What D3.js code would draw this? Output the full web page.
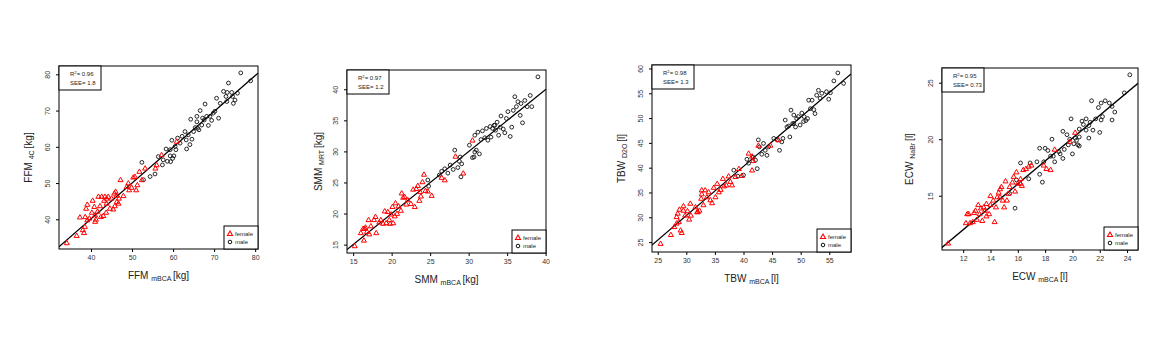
<!DOCTYPE html>
<html>
<head>
<meta charset="utf-8">
<script src="https://d3js.org/d3.v7.min.js"></script>
<style>
  body { margin: 0; background: #fff; }
  svg text { font-family: "Liberation Sans", Arial, sans-serif; fill: #222; }
  .tick text { font-size: 7px; fill: #333; }
</style>
</head>
<body>
<svg id="chart" width="1170" height="350"></svg>
<script>
// ---- data: [mBCA, reference] ----
const ffmFemale = [[34.1,33.5],[36.5,35.5],[37.3,40.6],[38.0,37.1],[38.3,36.3],[38.5,38.0],[38.8,43.0],[39.1,44.1],[38.6,40.7],[39.1,39.8],[39.6,40.3],[40.2,41.9],[40.4,45.2],[40.8,43.5],[41.0,41.2],[41.2,40.0],[41.6,42.2],[42.2,43.7],[42.6,46.3],[43.2,45.2],[43.4,46.3],[43.0,41.0],[43.7,41.9],[43.8,44.4],[44.2,46.3],[44.6,43.0],[45.0,45.8],[45.4,42.8],[45.7,47.2],[46.0,47.7],[46.2,46.6],[46.3,44.9],[46.7,44.4],[46.8,45.8],[47.2,50.9],[47.9,46.5],[48.7,49.0],[49.1,50.0],[49.3,48.1],[49.9,48.8],[50.3,51.6],[50.7,51.8],[51.0,48.1],[51.3,49.5],[51.8,53.2],[52.4,50.9],[53.2,54.1],[55.7,54.1],[56.0,55.0],[57.2,57.8],[60.9,61.5],[41.8,46.3],[43.8,45.8],[45.8,43.7],[41.0,39.4],[42.4,40.7]];
const ffmMale = [[52.4,55.7],[52.8,50.9],[54.4,51.8],[55.6,52.5],[56.4,57.3],[57.6,56.4],[58.3,59.4],[58.6,56.0],[59.3,59.2],[59.4,55.9],[59.7,61.8],[59.9,56.8],[60.2,57.5],[60.5,60.1],[60.7,59.2],[61.1,62.4],[61.7,61.0],[62.9,64.2],[63.2,61.9],[63.3,59.4],[63.7,63.3],[64.1,60.6],[64.3,67.6],[64.6,62.1],[65.0,64.2],[65.4,65.3],[65.8,66.9],[66.0,65.1],[66.3,64.7],[66.6,70.0],[67.0,66.0],[67.2,67.9],[67.6,67.4],[67.8,71.8],[68.2,68.4],[68.6,65.9],[69.0,68.4],[69.4,67.3],[69.8,69.3],[70.2,69.8],[70.6,73.4],[71.1,67.9],[71.5,72.0],[72.3,75.3],[72.9,73.9],[73.1,72.5],[73.5,77.6],[74.3,75.0],[74.7,72.0],[75.1,72.9],[75.7,74.8],[76.5,80.4],[78.9,78.2],[74.5,73.9],[65.8,68.4],[62.2,62.9],[59.3,57.5],[57.4,55.0],[73.2,75.0]];

const smmFemale = [[15.2,14.8],[16.0,16.9],[16.3,17.6],[16.4,15.7],[16.6,17.8],[16.8,17.1],[17.0,19.0],[17.1,16.7],[17.3,18.0],[17.7,19.0],[18.0,16.9],[18.4,18.6],[18.6,19.0],[18.9,18.4],[19.1,20.4],[19.3,18.5],[19.5,20.3],[19.7,19.0],[19.9,19.9],[20.1,21.1],[20.2,18.5],[20.4,19.6],[20.5,21.7],[20.7,20.0],[20.9,21.2],[21.2,20.5],[21.3,23.3],[21.5,22.6],[21.7,22.7],[22.1,22.2],[22.5,21.6],[22.8,23.9],[23.0,21.1],[23.2,24.0],[23.4,24.5],[23.6,22.1],[23.8,22.8],[24.0,25.1],[24.2,26.3],[24.4,23.7],[24.7,23.6],[25.2,22.9],[26.5,25.8],[26.9,25.4],[28.3,29.2],[29.3,26.5],[30.5,31.8],[17.9,19.5],[19.8,18.4],[21.9,21.5],[23.7,23.5],[16.5,17.6]];
const smmMale = [[24.7,25.4],[24.8,24.4],[26.2,26.2],[26.5,26.8],[26.9,27.2],[27.3,26.5],[27.6,27.8],[28.0,27.1],[28.2,30.2],[28.6,27.4],[28.8,28.4],[28.9,29.1],[29.0,25.9],[29.1,28.0],[30.1,31.0],[30.5,29.0],[30.7,29.1],[30.8,32.6],[31.0,30.2],[31.2,33.1],[31.4,29.6],[31.6,31.9],[31.8,33.3],[32.1,32.2],[32.3,33.7],[32.5,31.8],[32.8,34.0],[32.9,32.3],[33.1,33.7],[33.3,34.2],[33.5,33.4],[33.7,34.7],[33.9,32.6],[34.1,33.9],[34.2,35.7],[34.5,33.6],[34.7,33.0],[34.9,35.3],[35.1,36.4],[35.4,32.4],[35.6,33.9],[35.8,36.6],[36.0,38.8],[36.2,37.2],[36.4,38.0],[36.7,35.8],[37.0,34.6],[37.3,38.2],[37.6,37.2],[38.0,39.0],[38.2,37.2],[39.0,42.0],[36.8,37.7],[33.4,34.2],[30.8,29.9]];

const tbwFemale = [[25.5,24.7],[27.3,26.5],[27.9,28.1],[28.3,30.1],[28.5,30.8],[28.8,31.6],[28.7,29.1],[29.0,27.4],[29.2,26.9],[29.5,32.3],[29.8,30.4],[30.2,31.3],[30.5,29.6],[30.7,32.8],[30.8,30.4],[31.6,32.1],[31.9,31.1],[32.3,31.4],[32.6,33.8],[32.7,34.7],[33.0,32.5],[33.3,35.5],[33.6,34.1],[33.9,35.1],[34.2,33.5],[34.5,32.9],[34.8,36.0],[35.4,36.8],[35.7,35.1],[36.0,35.6],[36.4,37.8],[36.6,36.3],[37.0,36.5],[37.4,38.3],[37.7,37.2],[38.0,36.5],[38.6,38.2],[39.2,39.8],[39.7,38.4],[40.9,42.9],[41.5,42.3],[41.7,41.4],[41.5,39.5],[42.6,44.5],[44.7,44.5],[46.1,45.6],[29.5,31.4],[28.3,28.8],[32.7,35.5],[35.1,34.1],[32.0,31.1]];
const tbwMale = [[38.3,39.5],[39.0,38.3],[40.0,38.5],[40.6,41.7],[40.9,40.9],[41.7,42.1],[42.1,41.5],[42.4,39.8],[42.6,45.6],[42.8,44.2],[43.2,42.7],[43.5,44.9],[43.8,43.5],[44.1,42.5],[44.4,44.2],[45.3,45.9],[45.9,45.6],[46.3,43.5],[46.7,45.2],[47.3,49.6],[47.6,48.2],[48.1,46.2],[48.3,51.6],[48.6,48.9],[48.8,50.6],[49.1,48.2],[49.3,49.9],[49.6,50.3],[49.9,48.6],[50.2,51.0],[50.6,50.3],[50.9,49.5],[51.2,49.9],[51.4,53.6],[51.7,51.9],[52.0,53.6],[52.3,51.7],[52.5,50.9],[52.8,54.6],[53.1,55.6],[53.4,54.0],[53.7,55.0],[54.5,55.3],[54.9,53.8],[55.2,55.1],[55.8,57.5],[56.5,59.1],[57.5,57.0],[48.8,48.9],[47.9,48.4],[50.5,49.3],[46.9,45.9]];

const ecwFemale = [[10.9,10.8],[12.2,12.6],[12.3,13.4],[12.5,12.6],[12.7,12.7],[12.8,13.5],[12.9,13.7],[13.0,12.9],[13.1,14.2],[13.2,13.4],[13.3,13.9],[13.4,12.8],[13.5,14.0],[13.6,13.7],[13.7,13.2],[13.9,13.4],[14.0,14.2],[14.0,15.0],[14.2,14.6],[14.3,12.7],[14.4,14.0],[14.5,14.9],[14.6,15.3],[14.7,15.6],[14.8,15.8],[14.9,14.6],[15.0,14.0],[15.1,16.3],[15.2,14.6],[15.3,15.2],[15.4,15.8],[15.6,16.2],[15.7,16.7],[15.8,15.4],[15.9,17.1],[16.0,16.1],[16.2,16.5],[16.3,15.9],[16.4,17.3],[16.6,17.4],[16.8,17.6],[17.0,17.7],[17.9,17.7],[18.1,17.4],[18.4,17.3],[18.7,19.1],[19.8,19.8],[20.2,20.6],[12.4,13.4],[13.7,14.3],[14.7,14.9],[16.2,16.1]];
const ecwMale = [[15.8,13.9],[15.4,15.2],[15.9,16.4],[16.2,17.9],[16.8,16.5],[16.9,17.9],[17.4,18.0],[17.6,16.9],[17.8,16.2],[17.6,19.2],[17.9,18.0],[18.0,19.2],[18.2,19.0],[18.4,18.5],[18.5,20.0],[18.6,18.5],[18.7,18.0],[19.0,18.9],[19.3,18.3],[19.3,20.7],[19.4,19.1],[19.6,20.4],[19.7,19.5],[19.8,20.0],[19.9,21.8],[20.0,18.7],[20.1,19.6],[20.2,20.1],[20.3,19.9],[20.4,19.5],[20.5,19.4],[20.5,20.2],[20.7,21.6],[20.8,21.3],[21.0,20.8],[21.0,21.8],[21.2,20.1],[21.3,21.5],[21.4,23.4],[21.5,20.8],[21.7,21.8],[21.9,22.8],[22.0,20.6],[22.1,23.2],[22.1,21.7],[22.2,22.0],[22.4,23.4],[22.7,23.2],[22.9,21.7],[22.9,22.9],[23.1,22.4],[23.8,24.1],[24.2,25.7],[20.5,20.9],[19.1,18.7],[21.2,21.2]];

// axis ticks, fit lines and stats
const xTicks = [[40,50,60,70,80],[15,20,25,30,35,40],[25,30,35,40,45,50,55],[12,14,16,18,20,22,24]];
const yTicks = [[40,50,60,70,80],[15,20,25,30,35,40],[25,30,35,40,45,50,55,60],[15,20,25]];
const fitSlope = [0.988, 0.998, 0.991, 1.012];
const fitIntercept = [0.59, 0.03, 0.62, -0.15];
const r2Labels = ["0.96", "0.97", "0.98", "0.95"];
const seeLabels = ["1.8", "1.2", "1.3", "0.73"];
const xNames = [["FFM","mBCA","[kg]"],["SMM","mBCA","[kg]"],["TBW","mBCA","[l]"],["ECW","mBCA","[l]"]];
const yNames = [["FFM","4C","[kg]"],["SMM","MRT","[kg]"],["TBW","D2O","[l]"],["ECW","NaBr","[l]"]];

const panels = [
  {f: ffmFemale, m: ffmMale, xd: [32.2, 80.7], yd: [31.8, 82.3], box: {l: 59, r: 258, t: 66, b: 249}, ylx: 32},
  {f: smmFemale, m: smmMale, xd: [14.2, 40.05], yd: [13.65, 43.1], box: {l: 347, r: 546, t: 70, b: 253}, ylx: 322},
  {f: tbwFemale, m: tbwMale, xd: [24.0, 58.8], yd: [23.0, 60.7], box: {l: 652, r: 851, t: 65, b: 252}, ylx: 625},
  {f: ecwFemale, m: ecwMale, xd: [10.45, 24.8], yd: [10.2, 26.3], box: {l: 942, r: 1138, t: 68, b: 250}, ylx: 913}
];

const svg = d3.select("#chart");
const tri = d3.symbol().type(d3.symbolTriangle).size(11);

panels.forEach(function (p, i) {
  const b = p.box;
  const x = d3.scaleLinear().domain(p.xd).range([b.l, b.r]);
  const y = d3.scaleLinear().domain(p.yd).range([b.b, b.t]);
  const g = svg.append("g");

  // axes
  g.append("g").attr("transform", `translate(0,${b.b})`)
    .call(d3.axisBottom(x).tickValues(xTicks[i]).tickSize(3).tickPadding(3))
    .call(a => a.select(".domain").remove());
  g.append("g").attr("transform", `translate(${b.l},0)`)
    .call(d3.axisLeft(y).tickValues(yTicks[i]).tickSize(3).tickPadding(3))
    .call(a => a.select(".domain").remove())
    .call(a => a.selectAll(".tick text")
      .attr("transform", "rotate(-90)").attr("x", 0).attr("y", -9)
      .attr("text-anchor", "middle").attr("dy", 0));

  // fit line, clipped to the frame
  const clipId = "clip" + i;
  g.append("clipPath").attr("id", clipId).append("rect")
    .attr("x", b.l).attr("y", b.t).attr("width", b.r - b.l).attr("height", b.b - b.t);
  g.append("line")
    .attr("clip-path", `url(#${clipId})`)
    .attr("x1", x(p.xd[0])).attr("y1", y(fitSlope[i] * p.xd[0] + fitIntercept[i]))
    .attr("x2", x(p.xd[1])).attr("y2", y(fitSlope[i] * p.xd[1] + fitIntercept[i]))
    .attr("stroke", "#000").attr("stroke-width", 1.3);

  // points
  g.selectAll(".male").data(p.m).join("circle")
    .attr("cx", d => x(d[0])).attr("cy", d => y(d[1])).attr("r", 1.9)
    .attr("fill", "none").attr("stroke", "#111").attr("stroke-width", 0.9);
  g.selectAll(".female").data(p.f).join("path")
    .attr("d", tri)
    .attr("transform", d => `translate(${x(d[0])},${y(d[1]) + 0.4})`)
    .attr("fill", "none").attr("stroke", "#f00").attr("stroke-width", 1);

  // frame
  g.append("rect").attr("x", b.l).attr("y", b.t)
    .attr("width", b.r - b.l).attr("height", b.b - b.t)
    .attr("fill", "none").attr("stroke", "#000").attr("stroke-width", 1);

  // stats box
  g.append("rect").attr("x", b.l).attr("y", b.t).attr("width", 42).attr("height", 24)
    .attr("fill", "#fff").attr("stroke", "#000").attr("stroke-width", 1);
  const st = g.append("text").attr("x", b.l + 11).attr("y", b.t + 10).attr("font-size", 6);
  st.append("tspan").text("R");
  st.append("tspan").attr("font-size", 4.2).attr("dy", -2.3).text("2");
  st.append("tspan").attr("dy", 2.3).text("= " + r2Labels[i]);
  g.append("text").attr("x", b.l + 11).attr("y", b.t + 18.5).attr("font-size", 6)
    .text("SEE= " + seeLabels[i]);

  // legend
  const lx = b.r - 34, ly = b.b - 23;
  g.append("rect").attr("x", lx).attr("y", ly).attr("width", 34).attr("height", 23)
    .attr("fill", "#fff").attr("stroke", "#000").attr("stroke-width", 1);
  g.append("path").attr("d", tri).attr("transform", `translate(${lx + 6},${ly + 8})`)
    .attr("fill", "none").attr("stroke", "#f00").attr("stroke-width", 1.1);
  g.append("circle").attr("cx", lx + 6).attr("cy", ly + 16).attr("r", 1.8)
    .attr("fill", "none").attr("stroke", "#111").attr("stroke-width", 1);
  g.append("text").attr("x", lx + 11).attr("y", ly + 10).attr("font-size", 6).text("female");
  g.append("text").attr("x", lx + 11).attr("y", ly + 18).attr("font-size", 6).text("male");

  // axis titles
  const xt = g.append("text").attr("x", (b.l + b.r) / 2).attr("y", b.b + 30)
    .attr("text-anchor", "middle").attr("font-size", 10);
  xt.append("tspan").text(xNames[i][0] + " ");
  xt.append("tspan").attr("font-size", 7).attr("dy", 1.5).text(xNames[i][1] + " ");
  xt.append("tspan").attr("dy", -1.5).text(xNames[i][2]);

  const yt = g.append("text")
    .attr("transform", `translate(${p.ylx},${(b.t + b.b) / 2}) rotate(-90)`)
    .attr("text-anchor", "middle").attr("font-size", 10);
  yt.append("tspan").text(yNames[i][0] + " ");
  yt.append("tspan").attr("font-size", 7).attr("dy", 1.5).text(yNames[i][1] + " ");
  yt.append("tspan").attr("dy", -1.5).text(yNames[i][2]);
});
</script>
</body>
</html>
